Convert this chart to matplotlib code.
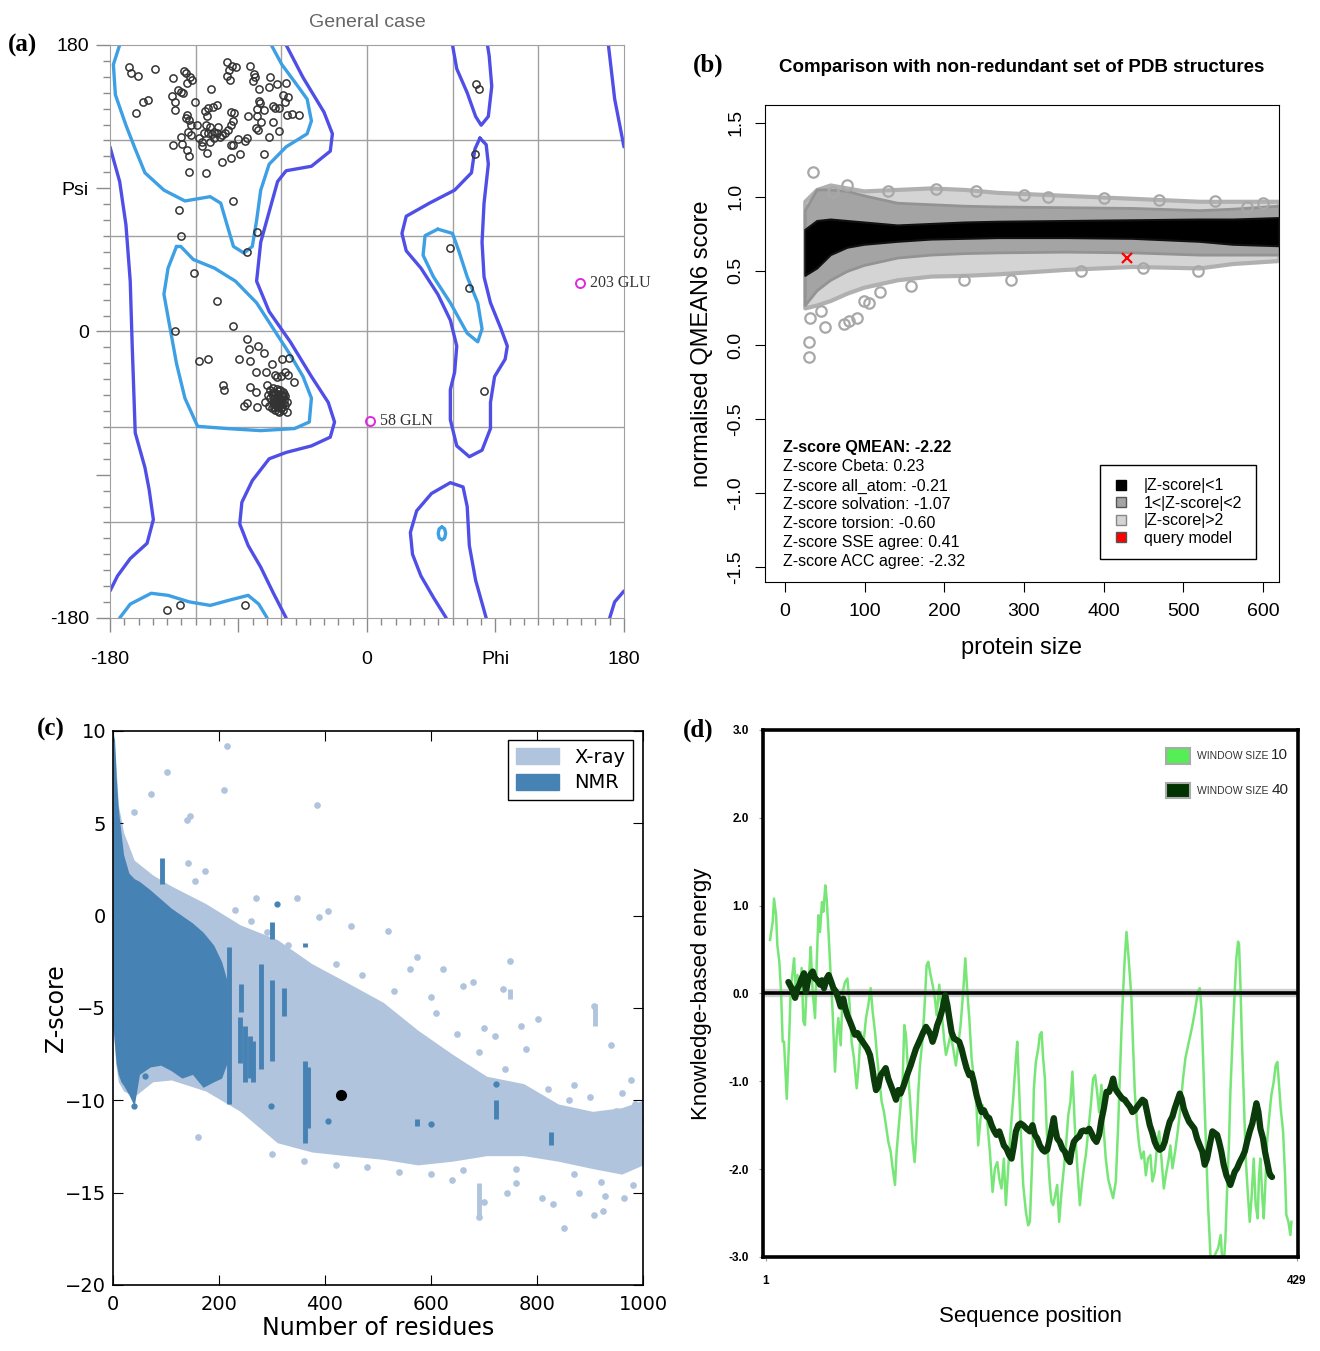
import matplotlib
matplotlib.use("Agg")
import matplotlib.pyplot as plt
import matplotlib.ticker as mticker
from matplotlib.lines import Line2D
from matplotlib.patches import Patch, Rectangle
import numpy as np

SANS = "Liberation Sans"
SERIF = "Liberation Serif"

# ------------------------------------------------------------------ #
# (a) Ramachandran plot -- contours and residues (phi, psi in degrees)
# ------------------------------------------------------------------ #
RAMA_GRID = [-120, -60, 0, 60, 120]

ALLOWED = [
    [(-56.6, 180), (-44.8, 159.6), (-30.1, 137.8), (-24.2, 124.2), (-25.7, 113.3), (-38.9, 103.8),
     (-56.6, 101.0), (-62.6, 94.2), (-68.5, 75.2), (-74.4, 56.1), (-77.3, 31.6), (-68.5, 12.5),
     (-53.7, -6.5), (-38.9, -28.3), (-27.1, -44.6), (-22.7, -56.9), (-25.7, -66.4), (-38.9, -71.9),
     (-56.6, -76.0), (-68.5, -80.0), (-80.3, -93.7), (-87.6, -107.3), (-89.1, -120.9), (-83.2, -134.5),
     (-74.4, -148.1), (-65.5, -164.5), (-56.6, -180)],
    [(-180, 116.0), (-173.2, 94.2), (-168.8, 67.0), (-165.8, 31.6), (-164.4, -9.3), (-162.3, -63.7),
     (-155.5, -85.5), (-152.6, -99.1), (-149.6, -118.2), (-154.0, -133.1), (-165.8, -142.7),
     (-174.7, -153.6), (-180, -163.1)],
    [(169.1, 180), (173.5, 146.0), (180, 116.0)],
    [(180, -163.1), (173.5, -169.9), (170.0, -180)],
    [(59.9, 180), (62.9, 165.0), (70.2, 150.0), (76.1, 135.1), (80.0, 129.6), (85.0, 135.1),
     (87.4, 154.1), (85.6, 173.2), (84.4, 180)],
    [(79.1, 121.5), (83.5, 117.4), (85.0, 105.1), (82.0, 80.6), (80.6, 56.1), (82.0, 34.3), (86.5, 18.0),
     (93.9, 1.6), (98.3, -9.2), (96.8, -17.4), (89.4, -28.3), (86.5, -44.6), (86.5, -61.0), (80.6, -74.6),
     (71.7, -78.7), (62.9, -71.9), (58.4, -55.5), (58.4, -36.5), (61.4, -25.6), (62.9, -9.2), (58.4, 7.1),
     (49.6, 23.4), (37.8, 39.8), (27.5, 50.7), (24.5, 61.6), (27.5, 72.4), (43.7, 80.6), (61.4, 88.8),
     (73.2, 99.7), (75.6, 114.6), (79.1, 121.5)],
    [(55.5, -180), (46.6, -167.2), (37.8, -153.6), (31.9, -140.0), (30.4, -126.3), (34.8, -112.7),
     (45.2, -101.8), (58.4, -95.0), (67.3, -97.7), (70.2, -110.0), (71.7, -134.5), (76.1, -156.3),
     (83.5, -180)],
]

FAVOURED = [
    [(-173.2, 180), (-177.6, 167.7), (-176.2, 148.7), (-168.8, 129.6), (-162.9, 116.0), (-155.5, 99.7),
     (-142.2, 88.8), (-127.5, 82.0), (-109.8, 84.7), (-102.4, 80.6), (-98.0, 67.0), (-93.5, 53.4),
     (-86.2, 49.3), (-80.3, 53.4), (-77.3, 69.7), (-74.4, 88.8), (-68.5, 105.1), (-56.6, 116.0),
     (-41.9, 124.2), (-38.9, 132.3), (-41.9, 146.0), (-50.7, 156.9), (-59.6, 167.7), (-67.0, 180)],
    [(-133.4, 53.4), (-139.3, 39.8), (-142.2, 23.4), (-137.8, 1.6), (-133.4, -20.1), (-127.5, -41.9),
     (-118.6, -59.6), (-98.0, -61.0), (-74.4, -62.3), (-50.7, -61.0), (-40.4, -56.9), (-38.9, -41.9),
     (-44.8, -28.3), (-53.7, -14.7), (-65.5, 1.6), (-77.3, 18.0), (-92.1, 31.6), (-106.8, 39.8),
     (-121.6, 45.2), (-130.4, 53.4), (-133.4, 53.4)],
    [(49.6, 64.3), (40.7, 60.2), (39.3, 47.9), (46.6, 34.3), (58.4, 18.0), (70.2, -1.1), (77.6, -6.5),
     (80.6, 1.6), (77.6, 18.0), (70.2, 34.3), (64.3, 50.7), (59.9, 61.6), (49.6, 64.3)],
    [(52.5, -122.8), (54.4, -124.0), (55.1, -126.9), (54.4, -129.8), (52.5, -131.0), (50.6, -129.8),
     (49.9, -126.9), (50.6, -124.0), (52.5, -122.8)],
    [(-173.2, -180), (-165.8, -171.3), (-151.1, -164.5), (-139.3, -165.8), (-124.5, -169.9),
     (-109.8, -172.1), (-95.0, -168.5), (-83.2, -165.8), (-75.8, -171.3), (-69.9, -180)],
]

RESIDUES = [
    (-166.5, 166.0), (-165.3, 162.2), (-160.2, 160.7), (-148.5, 164.9), (-135.6, 159.1), (-128.2, 163.7),
    (-126.8, 162.2), (-124.0, 160.1), (-122.8, 158.0), (-126.3, 155.9), (-132.1, 151.7), (-130.5, 150.7),
    (-128.6, 150.1), (-136.8, 148.2), (-134.5, 144.4), (-134.5, 139.2), (-156.7, 144.0), (-153.6, 145.2),
    (-161.8, 137.1), (-120.5, 144.4), (-125.8, 136.0), (-124.4, 132.9), (-126.8, 133.9), (-123.5, 129.7),
    (-119.3, 129.7), (-125.6, 125.1), (-130.3, 122.4), (-135.6, 117.2), (-129.8, 117.6), (-125.8, 114.0),
    (-124.9, 110.3), (-124.4, 100.4), (-112.8, 99.4), (-111.8, 112.4), (-115.8, 119.3), (-115.8, 116.8),
    (-113.9, 124.5), (-111.1, 124.5), (-108.8, 123.9), (-106.9, 125.1), (-104.8, 124.5), (-101.8, 123.5),
    (-99.4, 124.5), (-97.1, 126.6), (-95.5, 129.7), (-93.6, 132.3), (-95.5, 138.1), (-93.1, 137.1),
    (-104.6, 128.7), (-110.0, 128.7), (-113.0, 129.7), (-112.3, 135.6), (-113.5, 138.5), (-111.1, 140.2),
    (-107.6, 141.3), (-105.3, 142.3), (-109.5, 152.1), (-97.8, 169.1), (-96.4, 164.3), (-94.5, 167.0),
    (-91.7, 166.4), (-98.3, 160.5), (-95.9, 158.0), (-81.9, 167.0), (-79.1, 161.6), (-78.2, 160.1),
    (-79.6, 157.4), (-75.4, 152.4), (-67.9, 160.1), (-68.6, 153.8), (-62.8, 155.3), (-56.7, 155.9),
    (-59.0, 148.6), (-57.4, 144.0), (-55.1, 147.5), (-75.4, 144.8), (-74.9, 143.4), (-77.3, 139.8),
    (-71.9, 139.2), (-66.0, 141.9), (-64.4, 140.6), (-61.4, 140.2), (-55.8, 136.0), (-52.7, 136.4),
    (-47.8, 136.0), (-83.1, 135.6), (-76.8, 135.6), (-74.5, 131.4), (-78.0, 127.6), (-76.1, 126.6),
    (-66.0, 131.8), (-61.4, 126.0), (-68.9, 122.2), (-72.1, 111.3), (-88.9, 111.3), (-95.5, 117.2),
    (-93.6, 117.2), (-95.2, 108.8), (-101.3, 106.3), (-90.1, 120.9), (-85.7, 119.7), (-84.3, 121.8),
    (-107.1, 121.4), (-102.9, 122.4), (-110.0, 119.3), (-117.4, 121.8), (-123.3, 123.5), (-93.8, 82.2),
    (-131.7, 76.3), (-130.5, 60.2), (-76.8, 62.3), (-83.8, 50.2),
    (-120.9, 36.5), (-104.8, 19.4), (-134.5, 0.5), (-93.6, 3.3), (-83.8, -4.7), (-82.6, -11.2),
    (-76.3, -9.1), (-71.9, -13.7), (-117.4, -18.3), (-111.6, -17.5), (-89.6, -17.5), (-81.9, -18.5),
    (-66.7, -20.6), (-59.8, -17.5), (-54.8, -16.4), (-77.7, -25.6), (-70.7, -25.6), (-64.4, -27.3),
    (-60.5, -27.9), (-55.1, -27.3), (-51.1, -31.5), (-100.6, -33.6), (-100.1, -36.7), (-81.9, -34.6),
    (-77.7, -38.2), (-70.3, -33.6), (-71.4, -44.1), (-84.3, -45.1), (-85.9, -46.6), (-76.8, -47.6),
    (-68.6, -46.6), (-56.2, -50.4), (-57.4, -25.2), (-63.2, -28.4),
    (-67.9, -36.7), (-65.6, -35.7), (-63.2, -36.3), (-60.9, -36.7), (-58.6, -37.8), (-66.8, -39.3),
    (-64.4, -38.8), (-62.1, -39.3), (-59.8, -39.9), (-57.4, -40.5), (-67.9, -42.0), (-65.1, -41.6),
    (-62.8, -42.0), (-60.5, -42.4), (-58.1, -43.0), (-66.1, -44.5), (-63.7, -44.7), (-61.4, -45.1),
    (-59.1, -45.5), (-65.1, -47.2), (-62.8, -47.6), (-60.5, -48.3), (-58.6, -49.3), (-61.9, -50.4),
    (-64.2, -49.3), (-69.1, -39.9), (-56.2, -44.1),
    (-66.0, -38.0), (-62.0, -37.5), (-59.0, -41.0), (-64.0, -43.0), (-61.0, -46.0), (-63.0, -40.5),
    (-60.0, -44.0), (-57.5, -46.5), (-65.0, -45.5), (-62.0, -50.0), (-58.0, -39.0), (-66.5, -48.0),
    (-63.5, -46.2), (-61.5, -43.5), (-64.8, -40.2), (-59.5, -47.2),
    (57.9, 52.6), (71.7, 27.5), (82.0, -37.3), (76.1, 155.5), (78.5, 152.2), (75.6, 111.4),
    (-139.9, -174.8), (-131.0, -171.8), (-85.6, -171.8),
]

OUTLIER_NAMES = ["58 GLN", "203 GLU"]
OUTLIER_PHI = [1.8, 149.0]
OUTLIER_PSI = [-56.1, 30.5]

# ------------------------------------------------------------------ #
# (b) QMEAN comparison -- cloud envelopes per |Z-score| class
# ------------------------------------------------------------------ #
QM_X = [25, 40, 57, 78, 99, 141, 183, 225, 267, 352, 436, 520, 562, 620]
BLACK_TOP = [0.78, 0.84, 0.85, 0.84, 0.83, 0.81, 0.82, 0.83, 0.835, 0.84, 0.845, 0.85, 0.85, 0.86]
BLACK_BOT = [0.47, 0.52, 0.61, 0.66, 0.68, 0.70, 0.715, 0.72, 0.725, 0.725, 0.72, 0.70, 0.68, 0.67]
GRAY_TOP = [0.91, 1.05, 1.05, 1.04, 1.01, 0.96, 0.95, 0.94, 0.935, 0.93, 0.925, 0.91, 0.92, 0.94]
GRAY_BOT = [0.27, 0.37, 0.44, 0.50, 0.54, 0.59, 0.61, 0.62, 0.625, 0.63, 0.625, 0.61, 0.61, 0.61]
LIGHT_TOP = [0.97, 1.05, 1.08, 1.06, 1.04, 1.05, 1.06, 1.05, 1.03, 1.01, 0.99, 0.97, 0.97, 0.97]
LIGHT_BOT = [0.25, 0.27, 0.30, 0.35, 0.39, 0.44, 0.465, 0.47, 0.48, 0.51, 0.53, 0.52, 0.55, 0.57]

QM_OUT_X = [35, 30, 30, 50, 74, 80, 91, 32, 45, 99, 105, 120, 158, 225, 284, 372, 450, 518, 78, 60, 600,
            130, 190, 240, 300, 330, 400, 470, 540, 580]
QM_OUT_Y = [1.17, 0.02, -0.08, 0.12, 0.14, 0.16, 0.18, 0.18, 0.23, 0.30, 0.28, 0.36, 0.40, 0.44, 0.44,
            0.50, 0.52, 0.50, 1.08, 1.03, 0.96,
            1.04, 1.05, 1.04, 1.01, 1.00, 0.99, 0.98, 0.97, 0.93]
QUERY_SIZE = [429]
QUERY_SCORE = [0.59]

ZSCORE_LINES = [
    "Z-score QMEAN: -2.22",
    "Z-score Cbeta: 0.23",
    "Z-score all_atom: -0.21",
    "Z-score solvation: -1.07",
    "Z-score torsion: -0.60",
    "Z-score SSE agree: 0.41",
    "Z-score ACC agree: -2.32",
]
QM_LEGEND = ["|Z-score|<1", "1<|Z-score|<2", "|Z-score|>2", "query model"]

# ------------------------------------------------------------------ #
# (c) ProSA Z-score -- X-ray / NMR clouds
# ------------------------------------------------------------------ #
XRAY_X = [0, 5, 10, 20, 40, 75, 110, 175, 240, 310, 375, 440, 510, 575, 640, 705, 775, 840, 905, 960, 1000]
XRAY_TOP = [10, 8.5, 6.0, 4.5, 3.0, 2.2, 1.6, 0.65, -0.5, -1.3, -2.6, -3.6, -4.7, -6.2, -7.5, -8.7,
            -9.1, -10.2, -10.6, -10.4, -10.0]
XRAY_BOT = [-6, -8, -9, -9.5, -9.8, -9.0, -8.9, -9.5, -10.6, -12.3, -12.8, -13.0, -13.2, -13.5, -13.3,
            -13.0, -13.0, -13.3, -13.7, -14.0, -13.5]
XRAY_PTS = [
    (216, 9.2), (102, 7.8), (210, 6.8), (384, 6.0), (71, 6.6), (146, 5.4), (140, 5.2), (39, 5.6),
    (173, 2.4), (142, 2.85), (155, 1.85), (269, 0.97), (347, 0.97), (406, 0.26), (449, -0.58),
    (518, -0.85), (389, -0.1), (749, -2.46), (573, -2.24), (622, -2.9), (679, -3.6), (736, -4.0),
    (802, -5.6), (908, -4.9), (940, -7.0), (977, -8.9), (161, -12.0), (851, -16.9), (691, -16.3),
    (908, -16.2), (924, -16.0), (928, -15.2), (810, -15.3), (744, -15.0), (965, -15.3), (981, -14.6),
    (600, -14.0), (640, -14.3), (700, -15.5), (760, -14.5), (830, -15.6), (880, -15.0), (990, -13.0),
    (1000, -11.0), (985, -10.2), (960, -9.6), (900, -9.8), (870, -9.2), (720, -6.5), (700, -6.1),
    (770, -6.0), (780, -7.2), (660, -3.8), (560, -2.9), (600, -4.4),
    (230, 0.3), (260, -0.3), (290, -0.9), (330, -1.6), (420, -2.6), (470, -3.2), (530, -4.1),
    (610, -5.3), (650, -6.4), (690, -7.4), (740, -8.3), (820, -9.4), (860, -10.0), (950, -10.6),
    (300, -12.9), (360, -13.3), (420, -13.5), (480, -13.6), (540, -13.9), (660, -13.8), (760, -13.7),
    (870, -14.0), (920, -14.4),
]
XRAY_STRIPS = [(910, -6.0, -4.8), (690, -16.4, -14.5), (750, -4.5, -4.0)]

NMR_X = [0, 3, 6, 10, 15, 20, 30, 40, 50, 70, 90, 110, 130, 150, 170, 190, 205, 215]
NMR_TOP = [9.9, 9.5, 7.5, 5.8, 4.5, 3.3, 2.3, 2.0, 1.85, 1.4, 0.9, 0.4, 0.0, -0.4, -0.9, -1.6, -2.5, -3.5]
NMR_BOT = [-6.0, -7.0, -8.0, -8.6, -9.0, -9.2, -9.7, -10.3, -8.6, -8.2, -8.1, -8.4, -8.8, -8.6, -9.3,
           -9.0, -8.8, -8.0]
NMR_STRIPS = [
    (93, 1.7, 3.1), (218, -10.2, -1.7), (240, -8.0, -5.5), (250, -9.0, -6.0), (258, -8.8, -6.5),
    (265, -9.0, -6.8), (242, -5.2, -3.7), (279, -8.3, -2.6), (300, -1.25, -0.36), (300, -7.9, -3.5),
    (322, -5.45, -3.9), (363, -12.3, -7.9), (368, -11.5, -8.2), (363, -1.7, -1.5), (573, -11.4, -11.0),
    (722, -11.0, -10.0), (826, -12.4, -11.7),
]
NMR_PTS = [(309, 0.6), (298, -10.3), (405, -11.1), (600, -11.3), (722, -9.1), (60, -8.7), (40, -10.3)]
MODEL_RES = [430]
MODEL_Z = [-9.7]

# ------------------------------------------------------------------ #
# (d) knowledge-based energy profile (sequence position, energy)
# ------------------------------------------------------------------ #
WINDOW_10 = [
    (4.2, 0.61), (6.4, 0.82), (7.4, 1.08), (9.1, 0.89), (10.1, 0.55), (11.7, 0.36), (13.1, 0.02),
    (14.4, -0.55), (15.5, -0.55), (17.7, -1.20), (19.8, -0.44), (20.9, 0.06), (22.5, 0.25), (23.6, 0.40),
    (25.2, -0.06), (26.3, 0.21), (27.9, 0.02), (29.7, 0.29), (31.1, -0.32), (32.4, -0.36), (33.8, 0.10),
    (35.9, 0.25), (37.0, 0.53), (38.6, 0.02), (40.5, -0.28), (41.8, 0.32), (43.2, 0.89), (44.5, 0.70),
    (46.1, 1.04), (47.2, 0.93), (48.8, 1.23), (49.9, 1.08), (51.5, 0.66), (53.1, 0.21), (54.7, -0.21),
    (56.6, -0.89), (57.9, -0.51), (59.3, -0.28), (61.2, -0.59), (62.8, 0.02), (64.7, 0.13), (66.6, 0.17),
    (68.2, -0.09), (70.0, -0.55), (71.9, -0.74), (74.1, -1.08), (75.7, -0.82), (77.3, -0.44),
    (79.4, -0.59), (81.6, -0.28), (83.5, -0.13), (85.4, 0.06), (87.0, -0.21), (88.9, -0.44),
    (90.7, -0.74), (92.3, -0.97), (94.2, -1.23), (96.1, -1.35), (97.7, -1.50), (99.6, -1.69),
    (101.5, -1.80), (103.1, -1.99), (105.0, -2.18), (106.3, -1.80), (107.7, -1.57), (109.0, -1.35),
    (111.2, -0.97), (112.5, -0.36), (113.8, -0.47), (115.7, -0.93), (117.6, -1.31), (119.2, -1.69),
    (120.8, -1.92), (121.9, -1.69), (123.8, -1.12), (125.1, -0.82), (127.0, -0.55), (128.6, -0.21),
    (130.5, 0.32), (131.8, 0.36), (133.7, 0.21), (135.3, 0.10), (137.2, -0.06), (138.6, -0.25),
    (140.7, 0.10), (142.6, -0.21), (144.5, -0.51), (146.1, -0.70), (148.0, -0.59), (149.8, -0.47),
    (152.0, -0.63), (154.1, -0.82), (156.0, -0.59), (157.9, -0.36), (160.0, 0.02), (161.7, 0.40),
    (163.3, 0.02), (164.9, -0.28), (166.8, -0.74), (168.6, -0.97), (170.8, -1.31), (172.1, -1.73),
    (174.0, -1.42), (175.6, -1.27), (177.5, -1.35), (179.4, -1.46), (181.5, -1.80), (183.7, -2.26),
    (185.6, -1.99), (187.5, -1.92), (189.1, -2.11), (190.9, -2.22), (192.8, -1.88), (194.4, -2.41),
    (196.3, -1.99), (198.2, -1.57), (200.3, -1.20), (202.5, -0.74), (203.6, -0.55), (205.2, -1.12),
    (207.1, -1.80), (208.4, -2.18), (210.6, -2.49), (212.4, -2.64), (213.8, -2.60), (215.9, -1.80),
    (217.0, -1.08), (218.6, -0.78), (220.5, -0.63), (221.8, -0.47), (223.2, -0.44), (224.5, -0.74),
    (225.9, -0.97), (227.2, -1.50), (228.5, -1.88), (229.9, -2.18), (231.2, -2.37), (232.6, -2.41),
    (234.7, -2.26), (235.8, -2.18), (237.4, -2.60), (239.3, -2.26), (240.6, -2.07), (242.8, -1.76),
    (244.7, -1.39), (246.5, -1.23), (248.1, -0.89), (250.0, -1.50), (251.9, -1.95), (254.1, -2.41),
    (255.7, -2.18), (257.3, -1.99), (258.9, -1.84), (260.8, -1.57), (262.7, -1.31), (264.8, -0.97),
    (266.4, -0.93), (268.0, -1.12), (269.6, -1.35), (271.5, -1.04), (273.4, -1.57), (275.0, -1.88),
    (276.9, -2.11), (278.8, -2.22), (280.9, -2.33), (283.1, -2.14), (285.0, -1.50), (286.3, -0.97),
    (287.6, -0.44), (289.0, 0.02), (290.3, 0.40), (291.7, 0.70), (293.0, 0.48), (294.4, 0.21),
    (295.7, -0.06), (297.0, -0.59), (298.4, -1.12), (300.3, -1.50), (301.9, -1.73), (303.8, -1.88),
    (305.6, -1.80), (307.3, -2.07), (309.1, -1.88), (311.0, -1.84), (312.6, -2.14), (314.5, -2.03),
    (316.4, -1.73), (318.0, -1.57), (319.9, -1.88), (321.8, -2.22), (323.9, -2.03), (325.8, -1.88),
    (327.1, -1.73), (328.8, -1.99), (330.9, -1.80), (333.3, -1.54), (335.2, -1.31), (337.3, -0.97),
    (339.2, -0.74), (341.4, -0.59), (343.3, -0.47), (344.9, -0.36), (346.8, -0.21), (348.1, -0.09),
    (349.4, 0.02), (350.8, 0.06), (352.1, -0.17), (353.5, -0.74), (354.8, -1.31), (356.2, -1.88),
    (357.5, -2.41), (358.8, -2.79), (360.2, -3.20), (362.9, -2.98), (365.6, -2.90), (367.7, -2.75),
    (369.6, -3.20), (371.5, -2.79), (372.8, -2.26), (374.4, -1.69), (375.5, -1.12), (376.6, -0.74),
    (377.7, -0.36), (379.0, 0.02), (380.3, 0.40), (381.7, 0.59), (382.5, 0.55), (383.6, 0.10),
    (384.6, -0.44), (386.2, -1.12), (387.9, -1.88), (389.5, -2.26), (391.1, -2.60), (392.7, -2.30),
    (394.3, -1.88), (395.9, -2.41), (397.5, -2.56), (398.6, -2.07), (399.7, -1.88), (401.3, -2.33),
    (402.4, -2.56), (404.0, -2.07), (405.1, -1.69), (406.7, -1.42), (408.5, -1.16), (410.4, -1.01),
    (412.0, -0.82), (413.4, -0.78), (414.7, -1.04), (416.1, -1.31), (418.0, -1.57), (419.6, -2.07),
    (420.6, -2.52), (422.3, -2.60), (423.9, -2.75), (424.7, -2.60),
]
WINDOW_40 = [
    (19.0, 0.13), (21.7, 0.06), (24.4, -0.05), (26.3, 0.06), (27.9, 0.10), (29.7, 0.17), (31.6, 0.23),
    (33.2, 0.02), (35.1, 0.17), (37.0, 0.22), (38.6, 0.25), (40.5, 0.17), (42.4, 0.15), (44.5, 0.10),
    (46.1, 0.15), (47.7, 0.06), (49.9, 0.17), (51.5, 0.21), (53.1, 0.15), (55.3, 0.06), (57.4, 0.02),
    (59.3, -0.06), (61.2, -0.15), (63.3, -0.06), (64.9, -0.17), (66.6, -0.25), (68.7, -0.32),
    (70.9, -0.40), (72.7, -0.47), (74.6, -0.45), (76.8, -0.51), (78.9, -0.55), (80.8, -0.59),
    (82.7, -0.63), (84.8, -0.70), (86.4, -0.82), (88.0, -0.97), (89.7, -1.10), (91.5, -1.06),
    (93.4, -0.93), (95.6, -0.89), (97.5, -0.85), (99.6, -0.97), (101.5, -1.04), (103.6, -1.12),
    (105.8, -1.21), (107.7, -1.10), (109.5, -1.14), (111.7, -1.06), (113.8, -0.97), (115.7, -0.89),
    (117.6, -0.82), (119.8, -0.72), (121.9, -0.63), (123.8, -0.57), (125.7, -0.51), (127.8, -0.44),
    (130.0, -0.38), (131.8, -0.42), (133.7, -0.47), (135.3, -0.55), (137.2, -0.47), (139.1, -0.36),
    (141.2, -0.28), (143.4, -0.17), (145.5, -0.02), (147.2, -0.13), (148.8, -0.28), (150.6, -0.44),
    (152.5, -0.51), (154.7, -0.53), (156.8, -0.55), (158.7, -0.63), (160.6, -0.74), (162.7, -0.85),
    (164.9, -0.93), (166.8, -0.91), (168.6, -1.01), (170.8, -1.16), (173.0, -1.27), (174.8, -1.35),
    (176.7, -1.33), (178.9, -1.40), (181.0, -1.42), (182.9, -1.50), (184.8, -1.56), (186.9, -1.61),
    (189.1, -1.57), (191.0, -1.65), (192.8, -1.73), (195.0, -1.77), (197.1, -1.84), (199.0, -1.88),
    (200.9, -1.73), (202.5, -1.57), (204.4, -1.50), (206.3, -1.48), (208.4, -1.50), (211.1, -1.54),
    (213.8, -1.57), (215.9, -1.50), (217.8, -1.61), (219.7, -1.65), (221.8, -1.73), (224.0, -1.78),
    (225.8, -1.80), (227.7, -1.78), (229.9, -1.65), (232.0, -1.50), (233.1, -1.42), (234.2, -1.54),
    (235.8, -1.65), (237.9, -1.69), (240.1, -1.77), (242.0, -1.80), (243.9, -1.88), (246.0, -1.92),
    (247.3, -1.80), (249.2, -1.69), (251.4, -1.65), (253.5, -1.63), (255.4, -1.57), (257.3, -1.56),
    (259.4, -1.57), (261.6, -1.54), (263.5, -1.59), (265.3, -1.65), (267.5, -1.69), (269.6, -1.61),
    (271.5, -1.44), (273.4, -1.31), (275.6, -1.12), (277.7, -1.12), (279.6, -1.04), (280.9, -0.97),
    (282.5, -1.08), (284.2, -1.12), (286.3, -1.16), (288.5, -1.20), (290.3, -1.21), (292.2, -1.25),
    (294.4, -1.29), (296.5, -1.35), (298.4, -1.33), (300.3, -1.29), (302.4, -1.25), (304.6, -1.21),
    (306.5, -1.23), (308.3, -1.35), (310.5, -1.50), (312.6, -1.59), (314.5, -1.69), (316.4, -1.75),
    (318.5, -1.78), (320.7, -1.76), (322.6, -1.69), (324.5, -1.57), (326.6, -1.46), (328.8, -1.40),
    (330.6, -1.31), (332.5, -1.23), (334.7, -1.14), (336.3, -1.20), (337.9, -1.31), (340.0, -1.39),
    (342.2, -1.46), (344.3, -1.50), (346.5, -1.54), (348.6, -1.65), (350.8, -1.73), (352.9, -1.80),
    (354.8, -1.95), (356.7, -1.88), (358.8, -1.73), (361.0, -1.57), (362.9, -1.59), (364.8, -1.61),
    (366.4, -1.69), (368.2, -1.80), (370.1, -1.95), (372.3, -2.07), (374.4, -2.14), (375.5, -2.18),
    (377.1, -2.11), (379.0, -2.03), (380.9, -1.99), (383.0, -1.92), (385.2, -1.86), (387.1, -1.80),
    (388.9, -1.69), (391.1, -1.57), (393.2, -1.48), (395.1, -1.35), (396.5, -1.25), (398.1, -1.35),
    (399.7, -1.54), (401.8, -1.65), (403.4, -1.80), (405.1, -1.92), (406.7, -2.03), (407.7, -2.07),
    (409.1, -2.09),
]
SEQ_LENGTH = 429
ENERGY_TICKS = [-3.0, -2.0, -1.0, 0.0, 1.0, 2.0, 3.0]

DARK_BLUE = "#4f4fe8"
LIGHT_BLUE = "#3d9fe4"


def panel_label(fig, x, y, s):
    fig.text(x, y, s, family=SERIF, fontweight="bold", fontsize=18, ha="left", va="center")


def main() -> None:
    fig = plt.figure(figsize=(13.2, 13.51), dpi=100)

    # ================================================================== #
    # (a) Ramachandran plot
    # ================================================================== #
    ax = fig.add_axes([0.0833, 0.5426, 0.3894, 0.4241])
    for v in RAMA_GRID:
        ax.axvline(v, color="#a0a0a0", lw=1.0, zorder=0)
        ax.axhline(v, color="#a0a0a0", lw=1.0, zorder=0)
    for path in ALLOWED:
        ph, ps = np.array(path).T
        ax.plot(ph, ps, color=DARK_BLUE, lw=2.4, zorder=2, solid_capstyle="round")
    for path in FAVOURED:
        ph, ps = np.array(path).T
        ax.plot(ph, ps, color=LIGHT_BLUE, lw=2.4, zorder=2, solid_capstyle="round")
    ph, ps = np.array(RESIDUES).T
    ax.plot(ph, ps, "o", mfc="none", mec="#333333", ms=5.2, mew=1.1, zorder=3)
    ax.plot(OUTLIER_PHI, OUTLIER_PSI, "o", mfc="none", mec="#e028e0", ms=6.5, mew=1.4, zorder=3)
    for name, p, s in zip(OUTLIER_NAMES, OUTLIER_PHI, OUTLIER_PSI):
        ax.text(p + 7, s, name, family=SERIF, fontsize=11.5, color="#333333", va="center", ha="left")

    ax.set_xlim(-180, 180)
    ax.set_ylim(-180, 180)
    ax.set_xticks([-180, -90, 0, 90, 180])
    ax.set_xticklabels(["-180", "", "0", "Phi", "180"], family=SANS, fontsize=14)
    ax.set_yticks([-180, -90, 0, 90, 180])
    ax.set_yticklabels(["-180", "", "0", "Psi", "180"], family=SANS, fontsize=14)
    ax.xaxis.set_minor_locator(mticker.MultipleLocator(10))
    ax.yaxis.set_minor_locator(mticker.MultipleLocator(10))
    ax.tick_params(which="major", direction="out", length=10, color="#8a8a8a", width=1.0)
    ax.tick_params(which="minor", direction="out", length=5, color="#8a8a8a", width=1.0)
    ax.tick_params(axis="x", which="major", pad=14)
    ax.tick_params(axis="y", which="major", pad=5)
    for sp in ax.spines.values():
        sp.set_color("#a0a0a0")
    ax.set_title("General case", family=SANS, fontsize=14, color="#666666", pad=13)

    # ================================================================== #
    # (b) QMEAN6 comparison with PDB set
    # ================================================================== #
    ax = fig.add_axes([0.5795, 0.5692, 0.3894, 0.3531])
    ax.fill_between(QM_X, LIGHT_BOT, LIGHT_TOP, facecolor="#d4d4d4", edgecolor="#b0b0b0", lw=3.0, zorder=1)
    ax.fill_between(QM_X, GRAY_BOT, GRAY_TOP, facecolor="#a4a4a4", edgecolor="#939393", lw=2.0, zorder=2)
    ax.fill_between(QM_X, BLACK_BOT, BLACK_TOP, facecolor="black", edgecolor="#111111", lw=1.5, zorder=3)
    ax.plot(QM_OUT_X, QM_OUT_Y, "o", mfc="none", mec="#a8a8a8", ms=7.5, mew=1.6, zorder=2)
    ax.plot(QUERY_SIZE, QUERY_SCORE, "x", color="red", ms=6.5, mew=1.6, zorder=4)

    ax.set_xlim(-25, 620)
    ax.set_ylim(-1.6, 1.62)
    xt = [0, 100, 200, 300, 400, 500, 600]
    yt = [-1.5, -1.0, -0.5, 0.0, 0.5, 1.0, 1.5]
    ax.set_xticks(xt)
    ax.set_xticklabels([str(v) for v in xt], family=SANS, fontsize=14)
    ax.set_yticks(yt)
    ax.set_yticklabels([f"{v:.1f}" for v in yt], family=SANS, fontsize=14, rotation=90, va="center")
    ax.tick_params(direction="out", length=7, pad=8)
    ax.set_xlabel("protein size", family=SANS, fontsize=17, labelpad=12)
    ax.set_ylabel("normalised QMEAN6 score", family=SANS, fontsize=17, labelpad=10)
    ax.set_title("Comparison with non-redundant set of PDB structures",
                 family=SANS, fontsize=13.5, fontweight="bold", pad=24)

    for i, line in enumerate(ZSCORE_LINES):
        ax.text(0.035, 0.281 - i * 0.0398, line, transform=ax.transAxes, family=SANS,
                fontsize=11.5, fontweight="bold" if i == 0 else "normal", va="center", ha="left")

    handles = [
        Line2D([], [], marker="s", ls="none", mfc="black", mec="black", ms=7),
        Line2D([], [], marker="s", ls="none", mfc="#a4a4a4", mec="#555555", ms=7),
        Line2D([], [], marker="s", ls="none", mfc="#d4d4d4", mec="#888888", ms=7),
        Line2D([], [], marker="s", ls="none", mfc="red", mec="#555555", ms=7),
    ]
    leg = ax.legend(handles, QM_LEGEND, loc="lower right", bbox_to_anchor=(0.955, 0.048),
                    borderaxespad=0, fancybox=False, framealpha=1, edgecolor="black",
                    prop={"family": SANS, "size": 11.5}, handlelength=0.9, handletextpad=1.0,
                    labelspacing=0.15, borderpad=0.85)
    leg.get_frame().set_linewidth(1.0)

    # ================================================================== #
    # (c) ProSA Z-score plot
    # ================================================================== #
    ax = fig.add_axes([0.0856, 0.0489, 0.4015, 0.4101])
    ax.fill_between(XRAY_X, XRAY_BOT, XRAY_TOP, color="lightsteelblue", lw=0, zorder=1)
    xp, yp = np.array(XRAY_PTS).T
    ax.plot(xp, yp, "o", color="lightsteelblue", ms=3.8, zorder=1)
    sx, s0, s1 = np.array(XRAY_STRIPS).T
    ax.vlines(sx, s0, s1, color="lightsteelblue", lw=3.5, zorder=1)
    ax.fill_between(NMR_X, NMR_BOT, NMR_TOP, color="steelblue", lw=0, zorder=2)
    sx, s0, s1 = np.array(NMR_STRIPS).T
    ax.vlines(sx, s0, s1, color="steelblue", lw=3.5, zorder=2)
    xp, yp = np.array(NMR_PTS).T
    ax.plot(xp, yp, "o", color="steelblue", ms=3.5, zorder=2)
    ax.plot(MODEL_RES, MODEL_Z, "o", color="black", ms=7, zorder=4)

    ax.set_xlim(0, 1000)
    ax.set_ylim(-20, 10)
    ax.set_xticks([0, 200, 400, 600, 800, 1000])
    ax.set_yticks([-20, -15, -10, -5, 0, 5, 10])
    ax.tick_params(direction="in", length=7, top=True, right=True, labelsize=14, pad=5)
    ax.tick_params(axis="x", pad=7)
    ax.set_xlabel("Number of residues", fontsize=17, labelpad=2)
    ax.set_ylabel("Z-score", fontsize=17, labelpad=-2)
    for sp in ax.spines.values():
        sp.set_linewidth(1.2)
    ax.legend([Patch(color="lightsteelblue"), Patch(color="steelblue")], ["X-ray", "NMR"],
              loc="upper right", bbox_to_anchor=(0.981, 0.984), borderaxespad=0,
              fancybox=False, edgecolor="black", framealpha=1, fontsize=14,
              handlelength=2.2, handleheight=0.9, labelspacing=0.35)

    # ================================================================== #
    # (d) Knowledge-based energy
    # ================================================================== #
    ax = fig.add_axes([0.5780, 0.0696, 0.4053, 0.3901])
    ax.axhline(0, color="#cfcfcf", lw=6, zorder=1)
    w10 = np.array(WINDOW_10).T
    w40 = np.array(WINDOW_40).T
    ax.plot(w10[0], w10[1], color="#5fe25f", lw=1.8, alpha=0.85, zorder=2)
    ax.axhline(0, color="black", lw=2.6, zorder=3)
    ax.plot(w40[0], w40[1], color="#0b3a0b", lw=4.5, zorder=4,
            solid_joinstyle="round", solid_capstyle="round")

    ax.set_xlim(-1.5, 430)
    ax.set_ylim(-3.0, 3.0)
    ax.set_yticks(ENERGY_TICKS)
    ax.set_yticklabels([f"{v:.1f}" for v in ENERGY_TICKS], family=SANS, fontsize=8.5, fontweight="bold")
    ax.set_xticks([1, SEQ_LENGTH])
    ax.set_xticklabels(["1", str(SEQ_LENGTH)], family=SANS, fontsize=8.5, fontweight="bold")
    ax.tick_params(direction="out", length=3, color="#999999", pad=10)
    ax.tick_params(axis="y", pad=7)
    for sp in ax.spines.values():
        sp.set_linewidth(2.6)
    ax.set_xlabel("Sequence position", family=SANS, fontsize=16, labelpad=14)
    ax.set_ylabel("Knowledge-based energy", family=SANS, fontsize=16, labelpad=12)

    # legend drawn like the original (small caps caption + number)
    for ypos, col, num in [(0.936, "#55ee55", "10"), (0.870, "#003300", "40")]:
        ax.add_patch(Rectangle((0.754, ypos), 0.044, 0.030, transform=ax.transAxes,
                               facecolor=col, edgecolor="#aaaaaa", lw=1.5, zorder=5))
        ax.text(0.811, ypos + 0.014, "WINDOW SIZE", transform=ax.transAxes, family=SANS,
                fontsize=7.5, va="center", ha="left", color="#333333")
        ax.text(0.950, ypos + 0.016, num, transform=ax.transAxes, family=SANS,
                fontsize=11, va="center", ha="left", color="#222222")

    panel_label(fig, 0.006, 0.9667, "(a)")
    panel_label(fig, 0.525, 0.952, "(b)")
    panel_label(fig, 0.028, 0.4597, "(c)")
    panel_label(fig, 0.517, 0.4597, "(d)")

    fig.savefig("out.png", dpi=100)
    plt.close(fig)


if __name__ == "__main__":
    main()
